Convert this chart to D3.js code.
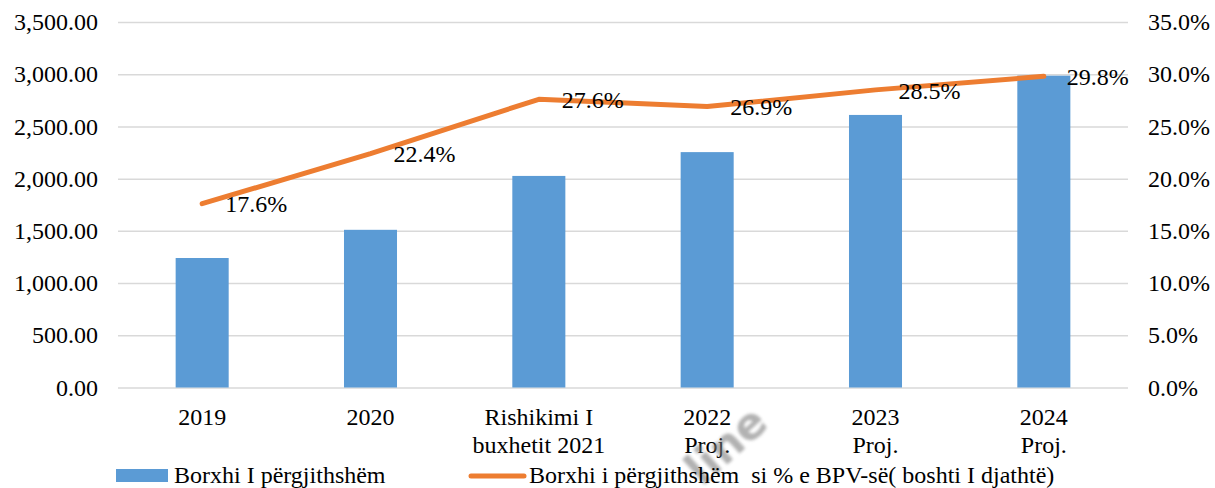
<!DOCTYPE html>
<html>
<head>
<meta charset="utf-8">
<script src="https://cdn.jsdelivr.net/npm/d3@7"></script>
<style>
  body { margin: 0; background: #fff; }
  .grid line { stroke: #d9d9d9; stroke-width: 1.5; }
  .grid path { display: none; }
</style>
</head>
<body>
<svg width="1215" height="488"></svg>
<script>
var categories = [["2019"], ["2020"], ["Rishikimi I", "buxhetit 2021"], ["2022", "Proj."], ["2023", "Proj."], ["2024", "Proj."]];
var debtValues = [1240, 1510, 2026, 2254, 2610, 2986];
var debtPctGdp = [17.6, 22.4, 27.6, 26.9, 28.5, 29.8];
var leftTicks = [0, 500, 1000, 1500, 2000, 2500, 3000, 3500];
var rightTicks = [0, 5, 10, 15, 20, 25, 30, 35];
var barLegend = "Borxhi I përgjithshëm";
var lineLegend = "Borxhi i përgjithshëm  si % e BPV-së( boshti I djathtë)";

var serif = "'Liberation Serif', 'Times New Roman', serif";

function init() {
    var svg = d3.select("svg"),
        margin = {top: 22, left: 118, right: 87, bottom: 100.5},
        width = +svg.attr("width") - margin.left - margin.right,
        height = +svg.attr("height") - margin.top - margin.bottom;

    var x = d3.scaleBand().domain(d3.range(categories.length)).range([0, width]),
        y = d3.scaleLinear().domain([0, 3500]).range([height, 0]),
        y2 = d3.scaleLinear().domain([0, 35]).range([height, 0]);

    var g = svg.append("g")
        .attr("transform", "translate(" + margin.left + "," + margin.top + ")");

    // gridlines
    g.append("g")
        .attr("class", "grid")
        .call(d3.axisLeft(y).tickValues(leftTicks).tickSize(-width).tickFormat(""));

    // left axis labels
    g.selectAll("text.yl")
        .data(leftTicks)
        .enter().append("text")
        .attr("class", "yl")
        .attr("x", -20)
        .attr("y", function(d) { return y(d); })
        .attr("dy", "0.34em")
        .attr("text-anchor", "end")
        .attr("font-family", serif)
        .attr("font-size", 24)
        .text(function(d) { return d3.format(",.2f")(d); });

    // right axis labels
    g.selectAll("text.yr")
        .data(rightTicks)
        .enter().append("text")
        .attr("class", "yr")
        .attr("x", width + 20)
        .attr("y", function(d) { return y2(d); })
        .attr("dy", "0.34em")
        .attr("text-anchor", "start")
        .attr("font-family", serif)
        .attr("font-size", 24)
        .text(function(d) { return d.toFixed(1) + "%"; });

    var barW = x.bandwidth() * 0.315;

    g.selectAll("rect.bar")
        .data(debtValues)
        .enter().append("rect")
        .attr("class", "bar")
        .attr("x", function(d, i) { return x(i) + x.bandwidth() / 2 - barW / 2; })
        .attr("y", function(d) { return y(d); })
        .attr("width", barW)
        .attr("height", function(d) { return height - y(d); })
        .attr("fill", "#5b9bd5");

    var line = d3.line()
        .x(function(d, i) { return x(i) + x.bandwidth() / 2; })
        .y(function(d) { return y2(d); });

    g.append("path")
        .datum(debtPctGdp)
        .attr("d", line)
        .attr("fill", "none")
        .attr("stroke", "#ed7d31")
        .attr("stroke-width", 5)
        .attr("stroke-linecap", "round")
        .attr("stroke-linejoin", "round");

    g.selectAll("text.lbl")
        .data(debtPctGdp)
        .enter().append("text")
        .attr("class", "lbl")
        .attr("x", function(d, i) { return x(i) + x.bandwidth() / 2 + 23; })
        .attr("y", function(d) { return y2(d); })
        .attr("dy", "0.36em")
        .attr("font-family", serif)
        .attr("font-size", 24)
        .text(function(d) { return d.toFixed(1) + "%"; });

    // category labels
    var xl = g.selectAll("text.xl")
        .data(categories)
        .enter().append("text")
        .attr("class", "xl")
        .attr("text-anchor", "middle")
        .attr("font-family", serif)
        .attr("font-size", 24);
    xl.selectAll("tspan")
        .data(function(d, i) { return d.map(function(s) { return {s: s, i: i}; }); })
        .enter().append("tspan")
        .attr("x", function(d) { return x(d.i) + x.bandwidth() / 2; })
        .attr("y", function(d, j) { return height + 37 + j * 28; })
        .text(function(d) { return d.s; });

    // watermark (only the visible part)
    var defs = svg.append("defs");
    defs.append("filter").attr("id", "blur")
        .append("feGaussianBlur").attr("stdDeviation", 1.8);
    svg.append("text")
        .attr("transform", "translate(770,426) rotate(-42)")
        .attr("text-anchor", "end")
        .attr("filter", "url(#blur)")
        .attr("font-family", "'DejaVu Sans', sans-serif")
        .attr("font-size", 44)
        .attr("font-weight", "bold")
        .attr("fill", "#7f7f7f")
        .attr("opacity", 0.6)
        .text("line");

    // legend
    var lg = svg.append("g")
        .attr("font-family", serif)
        .attr("font-size", 24);
    lg.append("rect")
        .attr("x", 116).attr("y", 469)
        .attr("width", 52).attr("height", 13)
        .attr("fill", "#5b9bd5");
    lg.append("text")
        .attr("x", 174).attr("y", 483)
        .text(barLegend);
    lg.append("line")
        .attr("x1", 471).attr("x2", 524)
        .attr("y1", 476).attr("y2", 476)
        .attr("stroke", "#ed7d31")
        .attr("stroke-width", 5)
        .attr("stroke-linecap", "round");
    lg.append("text")
        .attr("x", 529).attr("y", 483)
        .attr("xml:space", "preserve")
        .style("white-space", "pre")
        .text(lineLegend);
}
init();
</script>
</body>
</html>
